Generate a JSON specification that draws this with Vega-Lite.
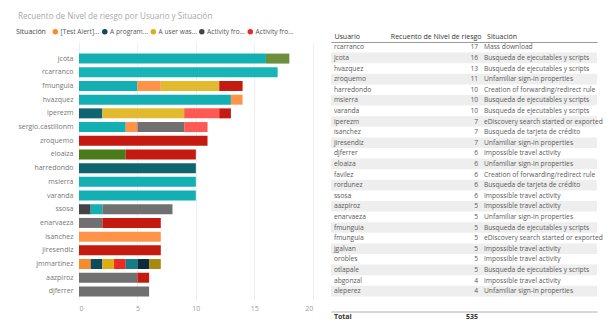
{
  "$schema": "https://vega.github.io/schema/vega-lite/v6.json",
  "padding": {"left": 16, "top": 12, "right": 5, "bottom": 0},
  "bounds": "flush",
  "spacing": 18,
  "config": {
    "view": {"stroke": null},
    "font": "Open Sans",
    "axis": {"labelFont": "Open Sans", "titleFont": "Open Sans"},
    "legend": {"labelFont": "Open Sans", "titleFont": "Open Sans"}
  },
  "datasets": {
    "categorias": [
      {"Situacion": "[Test Alert] Suspicious email sending patterns", "orden": 1},
      {"Situacion": "A program was executed from an unusual location", "orden": 2},
      {"Situacion": "A user was added to an admin role", "orden": 3},
      {"Situacion": "Activity from infrequent country", "orden": 4},
      {"Situacion": "Activity from suspicious IP addresses", "orden": 5},
      {"Situacion": "Admin activity from a new location", "orden": 6},
      {"Situacion": "Anonymous IP address", "orden": 7},
      {"Situacion": "Atypical travel", "orden": 8},
      {"Situacion": "Busqueda de ejecutables y scripts", "orden": 9},
      {"Situacion": "Busqueda de tarjeta de crédito", "orden": 10},
      {"Situacion": "Creation of forwarding/redirect rule", "orden": 11},
      {"Situacion": "eDiscovery search started or exported", "orden": 12},
      {"Situacion": "Impossible travel activity", "orden": 13},
      {"Situacion": "Leaked credentials", "orden": 14},
      {"Situacion": "Malware detected", "orden": 15},
      {"Situacion": "Mass delete", "orden": 16},
      {"Situacion": "Mass download", "orden": 17},
      {"Situacion": "Unfamiliar sign-in properties", "orden": 18}
    ],
    "barras": [
      {"Usuario": "jcota", "Situacion": "Busqueda de ejecutables y scripts", "n": 16},
      {"Usuario": "jcota", "Situacion": "Malware detected", "n": 2},
      {"Usuario": "rcarranco", "Situacion": "Mass download", "n": 17},
      {"Usuario": "fmunguia", "Situacion": "Busqueda de ejecutables y scripts", "n": 5},
      {"Usuario": "fmunguia", "Situacion": "Busqueda de tarjeta de crédito", "n": 2},
      {"Usuario": "fmunguia", "Situacion": "eDiscovery search started or exported", "n": 5},
      {"Usuario": "fmunguia", "Situacion": "Unfamiliar sign-in properties", "n": 2},
      {"Usuario": "hvazquez", "Situacion": "Busqueda de ejecutables y scripts", "n": 13},
      {"Usuario": "hvazquez", "Situacion": "Busqueda de tarjeta de crédito", "n": 1},
      {"Usuario": "iperezm", "Situacion": "Creation of forwarding/redirect rule", "n": 2},
      {"Usuario": "iperezm", "Situacion": "eDiscovery search started or exported", "n": 7},
      {"Usuario": "iperezm", "Situacion": "Mass delete", "n": 3},
      {"Usuario": "iperezm", "Situacion": "Unfamiliar sign-in properties", "n": 1},
      {"Usuario": "sergio.castillonm", "Situacion": "Busqueda de ejecutables y scripts", "n": 4},
      {"Usuario": "sergio.castillonm", "Situacion": "Busqueda de tarjeta de crédito", "n": 1},
      {"Usuario": "sergio.castillonm", "Situacion": "Impossible travel activity", "n": 4},
      {"Usuario": "sergio.castillonm", "Situacion": "Mass delete", "n": 2},
      {"Usuario": "zroquemo", "Situacion": "Unfamiliar sign-in properties", "n": 11},
      {"Usuario": "eloaiza", "Situacion": "Leaked credentials", "n": 4},
      {"Usuario": "eloaiza", "Situacion": "Unfamiliar sign-in properties", "n": 6},
      {"Usuario": "harredondo", "Situacion": "Creation of forwarding/redirect rule", "n": 10},
      {"Usuario": "msierra", "Situacion": "Busqueda de ejecutables y scripts", "n": 10},
      {"Usuario": "varanda", "Situacion": "Busqueda de ejecutables y scripts", "n": 10},
      {"Usuario": "ssosa", "Situacion": "Activity from infrequent country", "n": 1},
      {"Usuario": "ssosa", "Situacion": "Busqueda de ejecutables y scripts", "n": 1},
      {"Usuario": "ssosa", "Situacion": "Impossible travel activity", "n": 6},
      {"Usuario": "enarvaeza", "Situacion": "Impossible travel activity", "n": 2},
      {"Usuario": "enarvaeza", "Situacion": "Unfamiliar sign-in properties", "n": 5},
      {"Usuario": "isanchez", "Situacion": "Busqueda de tarjeta de crédito", "n": 7},
      {"Usuario": "jiresendiz", "Situacion": "Unfamiliar sign-in properties", "n": 7},
      {"Usuario": "jmmartinez", "Situacion": "[Test Alert] Suspicious email sending patterns", "n": 1},
      {"Usuario": "jmmartinez", "Situacion": "A program was executed from an unusual location", "n": 1},
      {"Usuario": "jmmartinez", "Situacion": "A user was added to an admin role", "n": 1},
      {"Usuario": "jmmartinez", "Situacion": "Activity from suspicious IP addresses", "n": 1},
      {"Usuario": "jmmartinez", "Situacion": "Admin activity from a new location", "n": 1},
      {"Usuario": "jmmartinez", "Situacion": "Anonymous IP address", "n": 1},
      {"Usuario": "jmmartinez", "Situacion": "Atypical travel", "n": 1},
      {"Usuario": "aazpiroz", "Situacion": "Impossible travel activity", "n": 5},
      {"Usuario": "aazpiroz", "Situacion": "Unfamiliar sign-in properties", "n": 1},
      {"Usuario": "djferrer", "Situacion": "Impossible travel activity", "n": 6}
    ],
    "tabla": [
      {"r": 1, "Usuario": "rcarranco", "Recuento": 17, "Situacion": "Mass download"},
      {"r": 2, "Usuario": "jcota", "Recuento": 16, "Situacion": "Busqueda de ejecutables y scripts"},
      {"r": 3, "Usuario": "hvazquez", "Recuento": 13, "Situacion": "Busqueda de ejecutables y scripts"},
      {"r": 4, "Usuario": "zroquemo", "Recuento": 11, "Situacion": "Unfamiliar sign-in properties"},
      {"r": 5, "Usuario": "harredondo", "Recuento": 10, "Situacion": "Creation of forwarding/redirect rule"},
      {"r": 6, "Usuario": "msierra", "Recuento": 10, "Situacion": "Busqueda de ejecutables y scripts"},
      {"r": 7, "Usuario": "varanda", "Recuento": 10, "Situacion": "Busqueda de ejecutables y scripts"},
      {"r": 8, "Usuario": "iperezm", "Recuento": 7, "Situacion": "eDiscovery search started or exported"},
      {"r": 9, "Usuario": "isanchez", "Recuento": 7, "Situacion": "Busqueda de tarjeta de crédito"},
      {"r": 10, "Usuario": "jiresendiz", "Recuento": 7, "Situacion": "Unfamiliar sign-in properties"},
      {"r": 11, "Usuario": "djferrer", "Recuento": 6, "Situacion": "Impossible travel activity"},
      {"r": 12, "Usuario": "eloaiza", "Recuento": 6, "Situacion": "Unfamiliar sign-in properties"},
      {"r": 13, "Usuario": "favilez", "Recuento": 6, "Situacion": "Creation of forwarding/redirect rule"},
      {"r": 14, "Usuario": "rordunez", "Recuento": 6, "Situacion": "Busqueda de tarjeta de crédito"},
      {"r": 15, "Usuario": "ssosa", "Recuento": 6, "Situacion": "Impossible travel activity"},
      {"r": 16, "Usuario": "aazpiroz", "Recuento": 5, "Situacion": "Impossible travel activity"},
      {"r": 17, "Usuario": "enarvaeza", "Recuento": 5, "Situacion": "Unfamiliar sign-in properties"},
      {"r": 18, "Usuario": "fmunguia", "Recuento": 5, "Situacion": "Busqueda de ejecutables y scripts"},
      {"r": 19, "Usuario": "fmunguia", "Recuento": 5, "Situacion": "eDiscovery search started or exported"},
      {"r": 20, "Usuario": "jgalvan", "Recuento": 5, "Situacion": "Impossible travel activity"},
      {"r": 21, "Usuario": "orobles", "Recuento": 5, "Situacion": "Impossible travel activity"},
      {"r": 22, "Usuario": "otlapale", "Recuento": 5, "Situacion": "Busqueda de ejecutables y scripts"},
      {"r": 23, "Usuario": "abgonzal", "Recuento": 4, "Situacion": "Impossible travel activity"},
      {"r": 24, "Usuario": "aleperez", "Recuento": 4, "Situacion": "Unfamiliar sign-in properties"}
    ],
    "total": [
      {"r": 25, "Usuario": "Total", "Recuento": 535}
    ]
  },
  "hconcat": [
    {
      "width": 233.7,
      "height": 257.5,
      "title": {
        "text": "Recuento de Nivel de riesgo por Usuario y Situación",
        "anchor": "start",
        "fontSize": 8.1,
        "fontWeight": "normal",
        "color": "#A8A8A8",
        "offset": 21
      },
      "data": {"name": "barras"},
      "transform": [
        {"lookup": "Situacion", "from": {"data": {"name": "categorias"}, "key": "Situacion", "fields": ["orden"]}}
      ],
      "mark": {"type": "bar"},
      "encoding": {
        "y": {
          "field": "Usuario",
          "type": "nominal",
          "sort": ["jcota", "rcarranco", "fmunguia", "hvazquez", "iperezm", "sergio.castillonm", "zroquemo", "eloaiza", "harredondo", "msierra", "varanda", "ssosa", "enarvaeza", "isanchez", "jiresendiz", "jmmartinez", "aazpiroz", "djferrer"],
          "scale": {"paddingInner": 0.27, "paddingOuter": 0.535, "align": 0.79},
          "axis": {"title": null, "ticks": false, "domain": false, "labelColor": "#777777", "labelFontSize": 7, "labelPadding": 6}
        },
        "x": {
          "field": "n",
          "type": "quantitative",
          "stack": "zero",
          "scale": {"domain": [0, 20]},
          "axis": {"title": null, "values": [0, 5, 10, 15, 20], "ticks": false, "domain": false, "gridColor": "#EEEEEE", "labelColor": "#999999", "labelFontSize": 7, "labelPadding": 5}
        },
        "order": {"field": "orden", "type": "quantitative", "sort": "ascending"},
        "color": {
          "field": "Situacion",
          "type": "nominal",
          "sort": ["[Test Alert] Suspicious email sending patterns", "A program was executed from an unusual location", "A user was added to an admin role", "Activity from infrequent country", "Activity from suspicious IP addresses", "Admin activity from a new location", "Anonymous IP address", "Atypical travel", "Busqueda de ejecutables y scripts", "Busqueda de tarjeta de crédito", "Creation of forwarding/redirect rule", "eDiscovery search started or exported", "Impossible travel activity", "Leaked credentials", "Malware detected", "Mass delete", "Mass download", "Unfamiliar sign-in properties"],
          "scale": {
            "domain": ["[Test Alert] Suspicious email sending patterns", "A program was executed from an unusual location", "A user was added to an admin role", "Activity from infrequent country", "Activity from suspicious IP addresses", "Admin activity from a new location", "Anonymous IP address", "Atypical travel", "Busqueda de ejecutables y scripts", "Busqueda de tarjeta de crédito", "Creation of forwarding/redirect rule", "eDiscovery search started or exported", "Impossible travel activity", "Leaked credentials", "Malware detected", "Mass delete", "Mass download", "Unfamiliar sign-in properties"],
            "range": ["#F58B2A", "#0D4A5A", "#DCAD14", "#444444", "#EC2A23", "#137C86", "#0B2B3D", "#A6890F", "#14AFB3", "#FF9448", "#0E6570", "#E2BA30", "#707070", "#4B7A18", "#6B8F3C", "#FD5A54", "#17B4B8", "#C41A10"]
          },
          "legend": {
            "orient": "none",
            "legendX": -63,
            "legendY": -13.5,
            "direction": "horizontal",
            "title": "Situación",
            "titleOrient": "left",
            "titleColor": "#444444",
            "titleFontSize": 7,
            "titleFontWeight": "normal",
            "titlePadding": 6,
            "titleBaseline": "middle",
            "symbolType": "circle",
            "symbolSize": 30,
            "symbolStrokeWidth": 0,
            "labelFontSize": 6.6,
            "labelColor": "#555555",
            "labelOffset": 2,
            "columnPadding": 1.5,
            "values": ["[Test Alert] Suspicious email sending patterns", "A program was executed from an unusual location", "A user was added to an admin role", "Activity from infrequent country", "Activity from suspicious IP addresses"],
            "labelExpr": "indexof(datum.label, '[Test') == 0 ? '[Test Alert]...' : indexof(datum.label, 'A program') == 0 ? 'A program...' : indexof(datum.label, 'A user') == 0 ? 'A user was...' : 'Activity fro...'"
          }
        }
      }
    },
    {
      "width": 266,
      "height": 265,
      "resolve": {"axis": {"x": "independent"}},
      "layer": [
        {
          "data": {"name": "tabla"},
          "transform": [{"filter": "datum.r % 2 == 0"}],
          "mark": {"type": "rect", "color": "#EEEEEE"},
          "encoding": {
            "y": {"field": "r", "type": "ordinal", "scale": {"domain": [1,2,3,4,5,6,7,8,9,10,11,12,13,14,15,16,17,18,19,20,21,22,23,24,25], "paddingInner": 0, "paddingOuter": 0}, "axis": null}
          }
        },
        {
          "data": {"name": "tabla"},
          "mark": {"type": "text", "align": "left", "baseline": "middle", "fontSize": 6.7, "color": "#5A5A5A"},
          "encoding": {
            "x": {
              "datum": 1.1,
              "type": "quantitative",
              "scale": {"domain": [0, 100]},
              "axis": {
                "orient": "top",
                "title": null,
                "values": [1.1, 56.4, 58.5],
                "labelExpr": "datum.value < 2 ? 'Usuario' : datum.value < 57 ? 'Recuento de Nivel de riesgo' : 'Situación'",
                "labelAlign": {"condition": {"test": "datum.value > 50 && datum.value < 57", "value": "right"}, "value": "left"},
                "labelFontSize": 7,
                "labelColor": "#333333",
                "labelPadding": 3,
                "ticks": false,
                "grid": false,
                "domain": true,
                "domainColor": "#9A9A9A",
                "domainWidth": 1
              }
            },
            "y": {"field": "r", "type": "ordinal", "axis": null},
            "text": {"field": "Usuario"}
          }
        },
        {
          "data": {"name": "tabla"},
          "mark": {"type": "text", "align": "right", "baseline": "middle", "fontSize": 6.7, "color": "#5A5A5A"},
          "encoding": {
            "x": {"datum": 55.3, "type": "quantitative", "axis": null},
            "y": {"field": "r", "type": "ordinal", "axis": null},
            "text": {"field": "Recuento"}
          }
        },
        {
          "data": {"name": "tabla"},
          "mark": {"type": "text", "align": "left", "baseline": "middle", "fontSize": 6.7, "color": "#5A5A5A"},
          "encoding": {
            "x": {"datum": 57.5, "type": "quantitative", "axis": null},
            "y": {"field": "r", "type": "ordinal", "axis": null},
            "text": {"field": "Situacion"}
          }
        },
        {
          "data": {"name": "total"},
          "mark": {"type": "text", "align": "left", "baseline": "middle", "fontSize": 7, "fontWeight": "bold", "color": "#333333", "dy": 15.5},
          "encoding": {
            "x": {
              "datum": 1.1,
              "type": "quantitative",
              "axis": {"orient": "bottom", "title": null, "labels": false, "ticks": false, "grid": false, "domain": true, "domainColor": "#B0B0B0", "offset": 4.5}
            },
            "y": {"field": "r", "type": "ordinal", "axis": null},
            "text": {"field": "Usuario"}
          }
        },
        {
          "data": {"name": "total"},
          "mark": {"type": "text", "align": "right", "baseline": "middle", "fontSize": 7, "fontWeight": "bold", "color": "#333333", "dy": 15.5},
          "encoding": {
            "x": {"datum": 55.3, "type": "quantitative", "axis": null},
            "y": {"field": "r", "type": "ordinal", "axis": null},
            "text": {"field": "Recuento"}
          }
        }
      ]
    }
  ]
}
